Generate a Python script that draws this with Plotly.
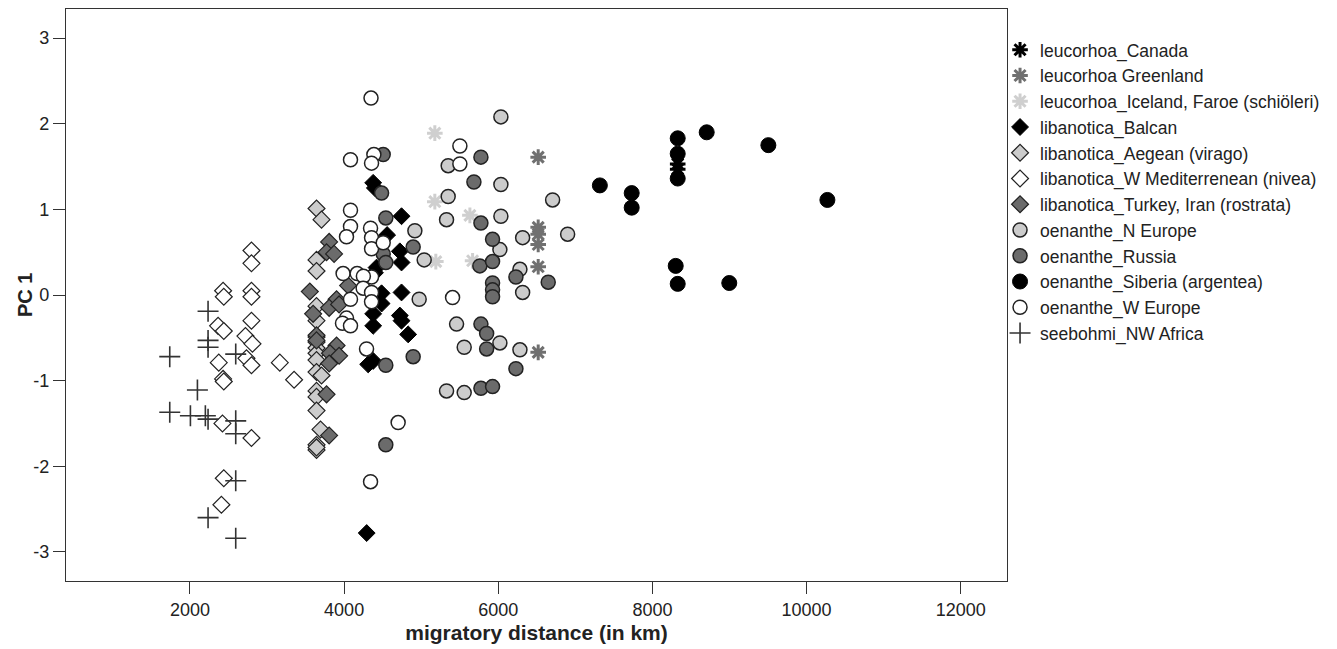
import plotly.graph_objects as go

# ---------------- data ----------------
canada_x = [8328, 8328]
canada_y = [1.53, 1.47]

greenland_x = [6518, 6518, 6518, 6518, 6518, 6518]
greenland_y = [1.61, 0.79, 0.71, 0.59, 0.33, -0.67]

iceland_x = [5177, 5177, 5632, 5190, 5667]
iceland_y = [1.89, 1.09, 0.93, 0.39, 0.40]

balcan_x = [4377, 4399, 4745, 4558, 4723, 4745, 4421, 4400, 4486, 4745, 4486,
            4377, 4723, 4745, 4377, 4831, 4312, 4377, 4293]
balcan_y = [1.31, 1.25, 0.92, 0.70, 0.51, 0.38, 0.32, 0.26, 0.02, 0.03, -0.10,
            -0.22, -0.24, -0.30, -0.36, -0.46, -0.81, -0.77, -2.78]

aegean_x = [3642, 3707, 3642, 3642, 3642, 3642, 3642, 3642, 3642, 3642, 3642,
            3642, 3707, 3642, 3642, 3642, 3694, 3642, 3642, 3642]
aegean_y = [1.01, 0.88, 0.41, 0.28, -0.13, -0.30, -0.49, -0.55, -0.62, -0.68, -0.76,
            -0.90, -0.94, -1.12, -1.19, -1.35, -1.57, -1.75, -1.81, -1.78]

wmed_x = [2798, 2798, 2430, 2439, 2798, 2798, 2798, 2365, 2439, 2720, 2811,
          2733, 2798, 2374, 2430, 2439, 3166, 3351, 2422, 2798, 2439, 2408]
wmed_y = [0.52, 0.37, 0.05, -0.02, 0.05, -0.02, -0.30, -0.36, -0.42, -0.48, -0.57,
          -0.74, -0.82, -0.79, -0.98, -1.01, -0.79, -0.99, -1.50, -1.67, -2.14, -2.45]

turkey_x = [3806, 3772, 3870, 3555, 3902, 3806, 3598, 3935, 4052, 3642, 3902,
            3817, 3935, 3806, 3772, 3806, 3642]
turkey_y = [0.62, 0.50, 0.48, 0.04, -0.05, -0.15, -0.22, -0.11, 0.11, -0.47, -0.59,
            -0.68, -0.71, -0.80, -1.16, -1.64, -0.53]

neur_x = [6034, 5350, 6034, 5350, 6705, 5329, 6034, 4918, 6316, 6900, 6021,
          5039, 6281, 6316, 4974, 5459, 5558, 6021, 6281, 5329, 5558]
neur_y = [2.08, 1.51, 1.29, 1.15, 1.11, 0.88, 0.92, 0.75, 0.67, 0.71, 0.53,
          0.41, 0.30, 0.03, -0.05, -0.34, -0.61, -0.56, -0.64, -1.12, -1.14]

russia_x = [4507, 4486, 4541, 4896, 4507, 4541, 4896, 4541, 4541, 5775, 5684,
            5775, 5926, 5761, 5926, 5926, 5926, 5926, 6229, 6648, 5775, 5849,
            5849, 6229, 5775, 5926]
russia_y = [1.64, 1.19, 0.90, 0.56, 0.48, 0.38, -0.72, -0.82, -1.75, 1.61, 1.32,
            0.84, 0.65, 0.34, 0.39, 0.14, 0.06, -0.02, 0.21, 0.15, -0.34, -0.45,
            -0.63, -0.86, -1.09, -1.07]

siberia_x = [7318, 7731, 7731, 8328, 8328, 8328, 8704, 9504, 10270, 8302, 8328, 8997]
siberia_y = [1.28, 1.19, 1.02, 1.83, 1.65, 1.36, 1.90, 1.75, 1.11, 0.34, 0.13, 0.14]

weur_x = [4349, 4083, 4386, 4356, 4083, 4083, 4343, 4031, 4356, 4356, 4507,
          3987, 4169, 4356, 4250, 4247, 4356, 4083, 4356, 4031, 3979, 4083,
          4291, 4701, 4343, 5407, 5502, 5502]
weur_y = [2.30, 1.58, 1.64, 1.54, 0.99, 0.80, 0.78, 0.68, 0.67, 0.54, 0.61,
          0.25, 0.25, 0.21, 0.22, 0.08, 0.03, -0.05, -0.08, -0.27, -0.33, -0.36,
          -0.63, -1.49, -2.18, -0.03, 1.74, 1.53]

nwafr_x = [2235, 2235, 2235, 1738, 2594, 2097, 1738, 2006, 2200, 2235, 2594,
           2594, 2594, 2235, 2594]
nwafr_y = [-0.19, -0.53, -0.61, -0.72, -0.69, -1.11, -1.37, -1.41, -1.41, -1.45, -1.47,
           -1.62, -2.17, -2.60, -2.84]

names = ["leucorhoa_Canada", "leucorhoa Greenland", "leucorhoa_Iceland, Faroe (schiöleri)",
         "libanotica_Balcan", "libanotica_Aegean (virago)", "libanotica_W Mediterrenean (nivea)",
         "libanotica_Turkey, Iran (rostrata)", "oenanthe_N Europe", "oenanthe_Russia",
         "oenanthe_Siberia (argentea)", "oenanthe_W Europe", "seebohmi_NW Africa"]

x_ticks = [2000, 4000, 6000, 8000, 10000, 12000]
x_tick_labels = ["2000", "4000", "6000", "8000", "10000", "12000"]
y_ticks = [-3, -2, -1, 0, 1, 2, 3]
y_tick_labels = ["-3", "-2", "-1", "0", "1", "2", "3"]
x_title = "migratory distance (in km)"
y_title = "PC 1"

# ---------------- styles ----------------
FONT = "Liberation Sans, Arial, sans-serif"
OUT = "#222222"
LIGHT = "#cccccc"
DARK = "#6b6b6b"

series = [
    (canada_x, canada_y, dict(symbol="asterisk-open", size=13, color="#000000",
                              line=dict(color="#000000", width=3))),
    (greenland_x, greenland_y, dict(symbol="asterisk-open", size=13, color="#707070",
                                    line=dict(color="#707070", width=3))),
    (iceland_x, iceland_y, dict(symbol="asterisk-open", size=13, color="#cfcfcf",
                                line=dict(color="#cfcfcf", width=3))),
    (balcan_x, balcan_y, dict(symbol="diamond", size=13, color="#000000",
                              line=dict(color="#000000", width=1))),
    (aegean_x, aegean_y, dict(symbol="diamond", size=13, color=LIGHT,
                              line=dict(color=OUT, width=1.2))),
    (wmed_x, wmed_y, dict(symbol="diamond", size=13, color="#ffffff",
                          line=dict(color=OUT, width=1.2))),
    (turkey_x, turkey_y, dict(symbol="diamond", size=13, color=DARK,
                              line=dict(color=OUT, width=1.2))),
    (neur_x, neur_y, dict(symbol="circle", size=14, color=LIGHT,
                          line=dict(color=OUT, width=1.5))),
    (russia_x, russia_y, dict(symbol="circle", size=14, color=DARK,
                              line=dict(color=OUT, width=1.5))),
    (siberia_x, siberia_y, dict(symbol="circle", size=15, color="#000000",
                                line=dict(color="#000000", width=1))),
    (weur_x, weur_y, dict(symbol="circle", size=14, color="#ffffff",
                          line=dict(color=OUT, width=1.5))),
    (nwafr_x, nwafr_y, dict(symbol="cross-thin-open", size=15, color="#333333",
                            line=dict(color="#333333", width=1.6))),
]

fig = go.Figure()
for name, (xs, ys, mk) in zip(names, series):
    fig.add_trace(go.Scatter(x=xs, y=ys, mode="markers", name=name, marker=mk,
                             legendgroup=name))

axis_common = dict(showgrid=False, zeroline=False, showline=True, mirror=True,
                   linecolor="#333333", linewidth=1.3, ticks="outside", ticklen=12,
                   tickcolor="#333333", tickwidth=1.2,
                   tickfont=dict(family=FONT, size=18, color="#222222"))

# The page adds an 8 px body margin, so the figure is sized/margined to compensate.
fig.update_layout(
    width=1329, height=641,
    margin=dict(l=58, r=330, t=0.5, b=68),
    paper_bgcolor="white", plot_bgcolor="white",
    font=dict(family=FONT, color="#222222"),
    xaxis=dict(range=[392, 12600], tickvals=x_ticks, ticktext=x_tick_labels,
               title=dict(text="<b>" + x_title + "</b>", standoff=6,
                          font=dict(size=21, family=FONT)),
               **axis_common),
    yaxis=dict(range=[-3.34, 3.34], tickvals=y_ticks, ticktext=y_tick_labels,
               **axis_common),
    legend=dict(x=0.9926, xanchor="left", y=0.96, yanchor="top",
                font=dict(size=17.5, family=FONT, color="#222222"),
                itemsizing="trace", tracegroupgap=0, itemwidth=30,
                bgcolor="rgba(0,0,0,0)"),
    showlegend=True,
    annotations=[dict(text="<b>" + y_title + "</b>", xref="paper", yref="paper",
                      x=0, y=0.5, xanchor="center", yanchor="middle", xshift=-41,
                      textangle=-90, showarrow=False,
                      font=dict(size=20, family=FONT, color="#222222"))],
)

fig.write_html("out.html")
